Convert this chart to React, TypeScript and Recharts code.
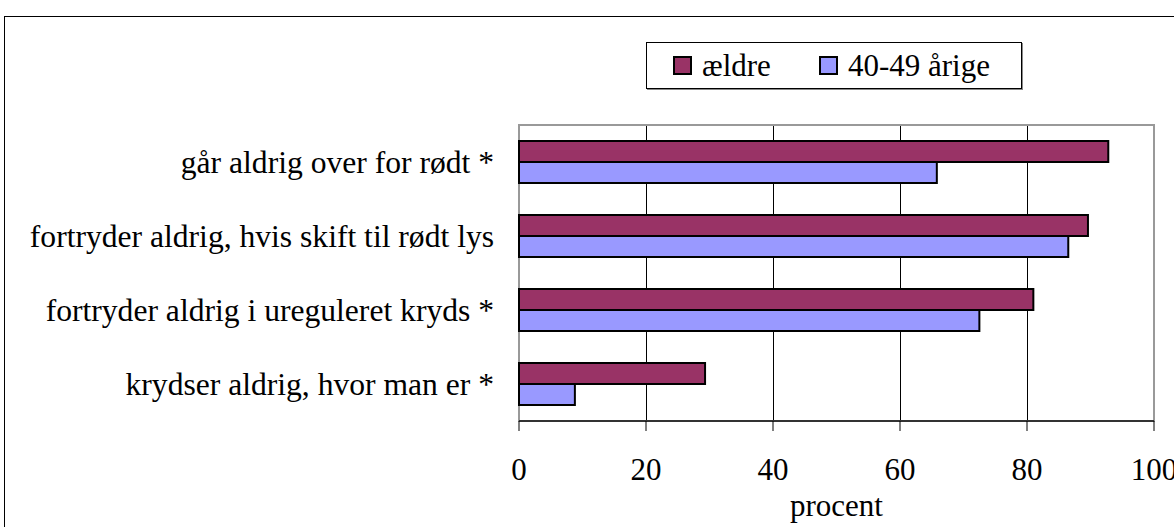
import { BarChart, Bar, XAxis, YAxis, Legend, CartesianGrid, ReferenceArea } from 'recharts';

const FONT = "'Liberation Serif', 'Times New Roman', serif";

const categories = [
    'går aldrig over for rødt *',
    'fortryder aldrig, hvis skift til rødt lys',
    'fortryder aldrig i ureguleret kryds *',
    'krydser aldrig, hvor man er *',
];
const aeldre = [92.8, 89.6, 81.0, 29.3];
const aarige = [65.8, 86.5, 72.5, 8.8];
const xTicks = [0, 20, 40, 60, 80, 100];
const seriesNames = ['ældre', '40-49 årige'];

const data = categories.map((name, i) => ({ name, aeldre: aeldre[i], aarige: aarige[i] }));

const renderLegend = (props: any) => {
    const { payload } = props;
    return (
        <div
            style={{
                width: 376,
                height: 47,
                boxSizing: 'border-box',
                border: '1px solid #000',
                boxShadow: '1px 1px 0 #888',
                background: '#fff',
                display: 'flex',
                alignItems: 'center',
                paddingLeft: 26,
                fontFamily: FONT,
                fontSize: 31,
                color: '#000',
                lineHeight: 1,
            }}
        >
            {(payload || []).map((entry: any, i: number) => (
                <div key={i} style={{ display: 'flex', alignItems: 'center', marginRight: i === 0 ? 48 : 0 }}>
                    <span
                        style={{
                            display: 'inline-block',
                            width: 19,
                            height: 19,
                            boxSizing: 'border-box',
                            border: '2px solid #000',
                            background: entry.color,
                            marginRight: 10,
                        }}
                    />
                    <span>{entry.value}</span>
                </div>
            ))}
        </div>
    );
};

export default function App() {
    return (
        <div style={{ position: 'fixed', left: 0, top: 0, width: 1174, height: 527, overflow: 'hidden', background: '#fff' }}>
            <style>{'.recharts-cartesian-grid line { shape-rendering: crispEdges; }'}</style>
            {/* outer chart frame, runs off the right and bottom of the picture */}
            <div style={{ position: 'absolute', left: 4, top: 16, width: 1200, height: 560, border: '1px solid #000' }} />
            <div style={{ position: 'absolute', left: 0, top: 0 }}>
                <BarChart
                    width={1174}
                    height={527}
                    data={data}
                    layout="vertical"
                    margin={{ top: 125, right: 20, left: 0, bottom: 0 }}
                    barGap={0}
                >
                    <CartesianGrid horizontal={false} stroke="#000" />
                    <ReferenceArea x1={0} x2={100} fill="none" stroke="#999" strokeWidth={2} />
                    <XAxis
                        type="number"
                        domain={[0, 100]}
                        ticks={xTicks}
                        interval={0}
                        height={106}
                        tickSize={10}
                        tickMargin={27}
                        axisLine={{ stroke: '#333', strokeWidth: 2 }}
                        tickLine={{ stroke: '#000' }}
                        tick={{ fill: '#000', fontSize: 31, fontFamily: FONT }}
                        label={{ value: 'procent', position: 'insideBottom', offset: 11, fill: '#000', fontSize: 31, fontFamily: FONT }}
                    />
                    <YAxis
                        type="category"
                        dataKey="name"
                        width={519}
                        interval={0}
                        axisLine={false}
                        tickLine={false}
                        tickSize={0}
                        tickMargin={25}
                        tick={{ fill: '#000', fontSize: 31.6, fontFamily: FONT }}
                    />
                    <Legend
                        layout="horizontal"
                        verticalAlign="middle"
                        align="center"
                        itemSorter={(item: any) => seriesNames.indexOf(item.value)}
                        wrapperStyle={{ left: 646, top: 42, width: 376, height: 47 }}
                        content={renderLegend}
                    />
                    <Bar dataKey="aeldre" name={seriesNames[0]} fill="#993366" stroke="#000" strokeWidth={2} barSize={21} isAnimationActive={false} />
                    <Bar dataKey="aarige" name={seriesNames[1]} fill="#9999FF" stroke="#000" strokeWidth={2} barSize={21} isAnimationActive={false} />
                </BarChart>
            </div>
        </div>
    );
}
